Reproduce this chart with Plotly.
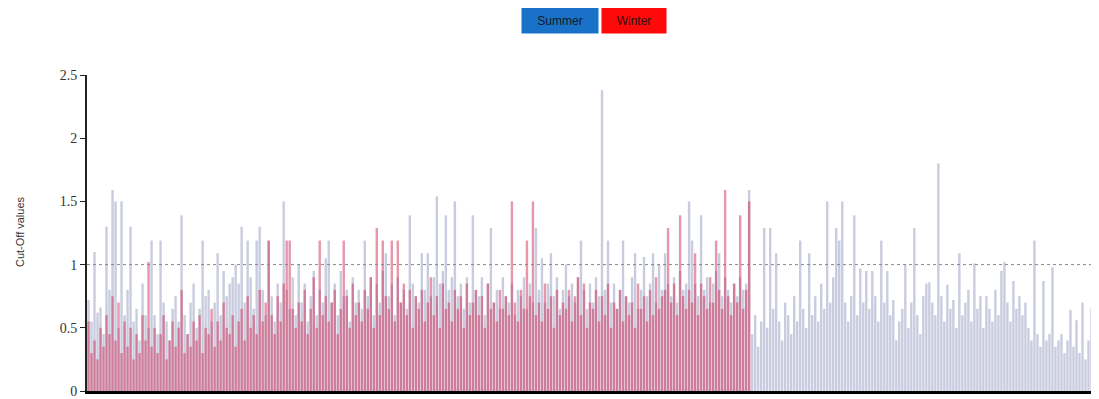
import plotly.graph_objects as go

# ---- data ----
summer = [
    0.72, 0.55, 1.10, 0.62, 0.66, 0.45, 1.30, 0.80, 1.59, 1.50,
    0.50, 1.50, 0.60, 0.80, 1.30, 0.55, 0.65, 0.40, 0.85, 0.60,
    0.50, 1.19, 0.60, 0.45, 1.19, 0.70, 0.55, 0.40, 0.65, 0.75,
    0.55, 1.39, 0.60, 0.45, 0.70, 0.85, 0.50, 0.65, 1.19, 0.75,
    0.80, 0.55, 0.70, 1.09, 0.60, 0.95, 0.75, 0.85, 0.90, 1.00,
    0.85, 1.30, 0.70, 1.19, 0.90, 0.65, 1.19, 1.30, 0.80, 0.60,
    1.19, 0.75, 0.55, 0.85, 0.70, 1.50, 0.80, 0.65, 0.90, 0.60,
    1.00, 0.70, 0.85, 0.55, 0.75, 0.95, 0.60, 0.80, 0.70, 1.05,
    1.19, 0.70, 0.85, 0.60, 0.95, 0.75, 0.80, 0.55, 0.90, 0.70,
    0.80, 0.65, 1.19, 0.75, 0.90, 0.60, 0.85, 0.70, 0.95, 1.09,
    0.75, 0.85, 0.60, 0.90, 0.70, 0.80, 0.65, 1.39, 0.85, 0.75,
    0.70, 1.09, 0.80, 1.09, 0.75, 0.90, 1.54, 0.85, 0.95, 1.39,
    0.80, 0.90, 1.50, 0.75, 0.85, 0.65, 0.90, 0.70, 1.39, 0.80,
    0.75, 0.90, 0.60, 0.85, 1.29, 0.70, 0.80, 0.65, 0.90, 0.75,
    0.70, 0.85, 0.60, 0.80, 0.75, 0.90, 0.65, 0.85, 0.70, 1.29,
    0.80, 1.05, 0.70, 0.85, 1.09, 0.75, 0.90, 0.65, 0.80, 1.00,
    0.75, 0.85, 0.70, 0.90, 1.19, 0.80, 0.65, 0.85, 0.70, 0.90,
    0.75, 2.38, 0.80, 1.19, 0.70, 0.85, 0.65, 0.80, 1.19, 0.75,
    0.70, 0.90, 1.09, 0.65, 0.80, 1.06, 0.75, 0.85, 1.09, 0.70,
    1.00, 0.80, 1.09, 0.85, 0.75, 0.90, 0.70, 0.95, 0.80, 0.85,
    1.50, 1.19, 0.85, 0.75, 1.39, 0.80, 0.90, 0.70, 0.85, 0.95,
    1.09, 0.75, 0.90, 0.80, 0.70, 0.85, 0.75, 0.90, 0.80, 0.85,
    1.59, 0.45, 0.60, 0.35, 0.55, 1.29, 0.50, 1.29, 0.65, 1.09,
    0.55, 0.40, 0.70, 0.60, 0.45, 0.75, 0.55, 1.19, 0.65, 0.50,
    1.09, 0.60, 0.75, 0.55, 0.85, 0.65, 1.50, 0.70, 0.90, 1.29,
    1.19, 1.50, 0.70, 0.55, 0.75, 1.39, 0.60, 0.97, 0.70, 0.95,
    0.65, 0.95, 0.75, 0.55, 1.19, 0.70, 0.95, 0.60, 0.72, 0.40,
    0.55, 0.65, 1.00, 0.50, 0.70, 1.29, 0.60, 0.45, 0.75, 0.85,
    0.86, 0.70, 0.60, 1.80, 0.75, 0.55, 0.84, 0.65, 0.72, 0.50,
    1.09, 0.60, 0.70, 0.80, 0.55, 1.01, 0.65, 0.75, 0.50, 0.75,
    0.65, 0.55, 0.80, 0.60, 0.95, 1.02, 0.70, 0.55, 0.87, 0.65,
    0.75, 0.60, 0.70, 0.50, 0.40, 1.19, 0.45, 0.35, 0.87, 0.40,
    0.45, 0.98, 0.35, 0.40, 0.45, 0.30, 0.40, 0.64, 0.35, 0.56,
    0.30, 0.70, 0.25, 0.40, 0.65, 0.30, 0.35,
]

winter = [
    0.55, 0.30, 0.40, 0.25, 0.50, 0.35, 0.60, 0.45, 0.75, 0.40,
    0.70, 0.30, 0.55, 0.35, 0.50, 0.25, 0.45, 0.30, 0.60, 0.40,
    1.02, 0.35, 0.50, 0.30, 0.45, 0.60, 0.25, 0.40, 0.55, 0.35,
    0.50, 0.80, 0.30, 0.45, 0.35, 0.55, 0.40, 0.60, 0.30, 0.50,
    0.45, 0.65, 0.35, 0.55, 0.40, 0.70, 0.50, 0.45, 0.60, 0.35,
    0.55, 0.65, 0.40, 0.75, 0.50, 0.60, 0.45, 0.80, 0.55, 0.70,
    1.19, 0.60, 0.45, 0.75, 0.55, 0.85, 1.19, 1.19, 0.65, 0.50,
    0.70, 0.55, 0.80, 0.45, 0.65, 0.90, 0.50, 1.19, 0.60, 0.75,
    0.55, 0.70, 0.80, 0.45, 0.65, 1.19, 0.75, 0.50, 0.85, 0.60,
    0.70, 0.55, 0.80, 0.65, 0.90, 0.50, 1.29, 0.60, 1.19, 0.75,
    0.65, 1.19, 0.55, 1.19, 0.70, 0.85, 0.60, 0.80, 0.50, 0.75,
    0.65, 0.80, 0.55, 0.70, 0.90, 0.60, 0.75, 0.50, 0.85, 0.65,
    0.70, 0.55, 0.80, 0.65, 0.75, 0.50, 0.85, 0.60, 0.70, 0.80,
    0.60, 0.75, 0.50, 0.85, 0.65, 0.70, 0.55, 0.80, 0.65, 0.75,
    0.60, 1.50, 0.70, 0.55, 0.80, 0.65, 1.19, 0.75, 1.50, 0.60,
    0.70, 0.55, 0.85, 0.65, 0.75, 0.50, 0.80, 0.60, 0.70, 0.65,
    0.80, 0.55, 0.75, 0.90, 0.60, 0.85, 0.50, 0.70, 0.65, 0.80,
    0.55, 0.75, 0.60, 0.85, 0.50, 0.70, 0.65, 0.80, 0.55, 0.75,
    0.60, 0.70, 0.50, 0.85, 0.65, 0.75, 0.55, 0.80, 0.60, 0.90,
    0.65, 0.75, 0.80, 1.29, 0.70, 0.85, 0.60, 1.39, 0.75, 0.65,
    0.80, 0.70, 1.09, 0.60, 0.85, 0.75, 0.65, 0.90, 0.70, 1.19,
    0.80, 0.65, 1.59, 0.75, 0.60, 0.85, 0.70, 1.39, 0.65, 0.80,
    1.50,
]

y_ticks = [0, 0.5, 1, 1.5, 2, 2.5]
y_tick_labels = ["0", "0.5", "1", "1.5", "2", "2.5"]
cutoff_line = 1.0
series_names = ["Summer", "Winter"]

x_summer = list(range(len(summer)))
x_winter = list(range(len(winter)))

fig = go.Figure()
fig.add_trace(go.Bar(
    x=x_summer, y=summer, name=series_names[0],
    marker=dict(color="rgba(135,142,185,0.45)", line=dict(width=0)),
    showlegend=False,
))
fig.add_trace(go.Bar(
    x=x_winter, y=winter, name=series_names[1],
    marker=dict(color="rgba(210,45,85,0.5)", line=dict(width=0)),
    showlegend=False,
))

fig.add_shape(type="line", xref="paper", x0=0, x1=1, yref="y", y0=cutoff_line, y1=cutoff_line,
              line=dict(color="#888888", width=1, dash="3px,3px"), layer="above")

# legend drawn as coloured boxes with text
fig.add_annotation(text=series_names[0], xref="paper", yref="paper", x=0.4674, y=1.171,
                   xanchor="center", yanchor="middle", showarrow=False,
                   bgcolor="#1a72c8", width=76, height=25, borderpad=0,
                   font=dict(family="Liberation Sans", size=12, color="#101828"))
fig.add_annotation(text=series_names[1], xref="paper", yref="paper", x=0.5405, y=1.171,
                   xanchor="center", yanchor="middle", showarrow=False,
                   bgcolor="#ff0a0a", width=64, height=25, borderpad=0,
                   font=dict(family="Liberation Sans", size=12, color="#301010"))

# y-axis title
fig.add_annotation(text="Cut-Off values", xref="paper", yref="paper", x=-0.0662, y=0.503,
                   xanchor="center", yanchor="middle", showarrow=False, textangle=-90,
                   font=dict(family="Liberation Sans", size=11, color="#333333"))

# the page body adds an 8px offset, so the figure is 8px smaller
fig.update_layout(
    width=1091, height=391,
    margin=dict(l=79, r=0, t=67, b=8),
    barmode="overlay", bargap=0.2,
    paper_bgcolor="white", plot_bgcolor="white",
)
fig.update_xaxes(range=[-0.5, len(summer) - 0.5], showticklabels=False, showgrid=False,
                 zeroline=False, showline=True, linecolor="black", linewidth=3, ticks="")
fig.update_yaxes(range=[0, 2.5], tickvals=y_ticks, ticktext=y_tick_labels, showgrid=False,
                 zeroline=False, showline=True, linecolor="#222222", linewidth=2,
                 ticks="outside", ticklen=5, tickcolor="#222222",
                 tickfont=dict(family="Liberation Serif", size=14, color="#333333"))

fig.write_html("out.html")
